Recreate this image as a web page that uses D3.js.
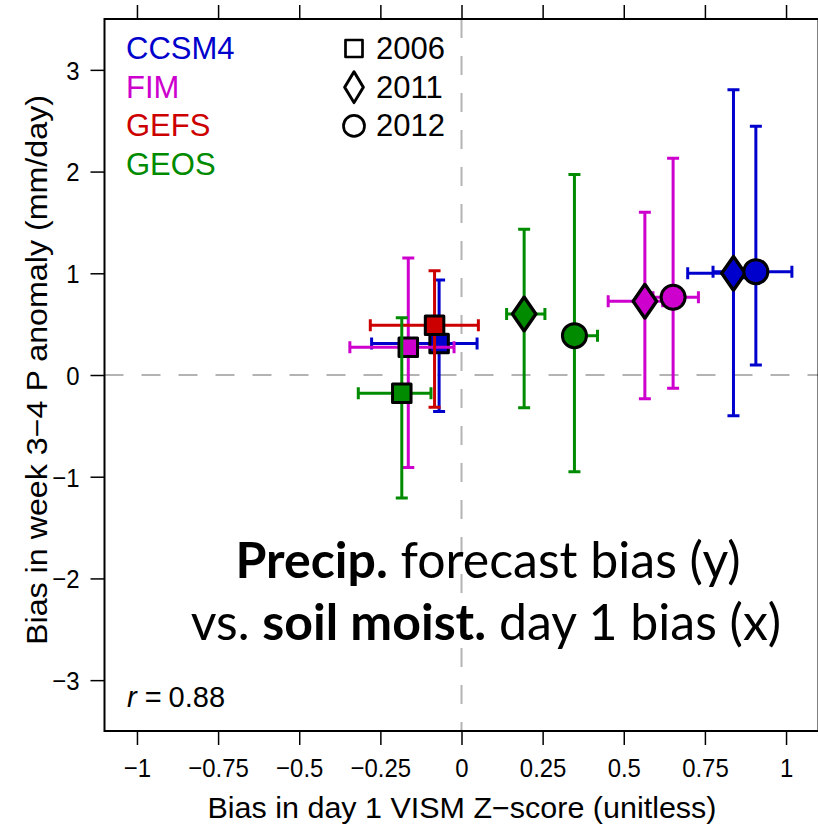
<!DOCTYPE html>
<html lang="en">
<head>
<meta charset="UTF-8">
<title>Precip bias vs soil moisture bias</title>
<script src="https://d3js.org/d3.v7.min.js"></script>
<style>
  body { margin: 0; background: #fff; }
  svg { display: block; }
  text { font-family: "Liberation Sans", Arial, sans-serif; }
</style>
</head>
<body>
<svg width="818" height="827"></svg>
<script>
// models, years and their colours / symbols
var models = ["CCSM4", "FIM", "GEFS", "GEOS"];
var modelColors = ["#0000CD", "#CD00CD", "#CD0000", "#008B00"];
var years = [2006, 2011, 2012];
var yearShapes = ["square", "diamond", "circle"];

// one entry per point
var pointModel = ["CCSM4", "CCSM4", "CCSM4", "FIM", "FIM", "FIM", "GEFS", "GEOS", "GEOS", "GEOS"];
var pointYear  = [2006, 2011, 2012, 2006, 2011, 2012, 2006, 2006, 2011, 2012];
var xBias = [-0.069, 0.838, 0.907, -0.164, 0.565, 0.652, -0.083, -0.184, 0.193, 0.348];
var xLow  = [-0.277, 0.697, 0.775, -0.344, 0.452, 0.590, -0.281, -0.318, 0.139, 0.320];
var xHigh = [ 0.048, 0.870, 1.018, -0.023, 0.620, 0.730,  0.052, -0.094, 0.257, 0.419];
var yBias = [ 0.31, 1.00, 1.016, 0.272, 0.725, 0.764, 0.489, -0.18, 0.60, 0.387];
var yLow  = [-0.36, -0.40, 0.098, -0.91, -0.233, -0.131, -0.318, -1.21, -0.321, -0.95];
var yHigh = [ 0.934, 2.805, 2.445, 1.15, 1.60, 2.13, 1.026, 0.563, 1.432, 1.97];

var xTicks = [-1, -0.75, -0.5, -0.25, 0, 0.25, 0.5, 0.75, 1];
var yTicks = [-3, -2, -1, 0, 1, 2, 3];
var rText = "0.88";

var svg = d3.select("svg");
var plotL = 104.5, plotR = 818.5, plotT = 19, plotB = 731;

var x = d3.scaleLinear().domain([-1.1, 1.1]).range([plotL, plotR]);
var y = d3.scaleLinear().domain([-3.5, 3.5]).range([plotB, plotT]);
var color = d3.scaleOrdinal().domain(models).range(modelColors);
var shape = d3.scaleOrdinal().domain(years).range(yearShapes);

function fmt(d) { return d < 0 ? "\u2212" + String(-d) : String(d); }
// squeeze a text horizontally, like the narrow R device text
function squeeze(t, f) {
  t.each(function() {
    var w = this.getComputedTextLength();
    d3.select(this).attr("textLength", w * f).attr("lengthAdjust", "spacingAndGlyphs");
  });
}

// zero reference lines
svg.append("line").attr("x1", x(0)).attr("x2", x(0)).attr("y1", plotT).attr("y2", plotB)
  .attr("stroke", "#b3b3b3").attr("stroke-width", 2).attr("stroke-dasharray", "19,18");
svg.append("line").attr("x1", plotL).attr("x2", plotR).attr("y1", y(0)).attr("y2", y(0))
  .attr("stroke", "#b3b3b3").attr("stroke-width", 2).attr("stroke-dasharray", "19,18");

// axes
var gx = svg.append("g").attr("transform", "translate(0," + plotB + ")")
  .call(d3.axisBottom(x).tickValues(xTicks).tickFormat(fmt).tickSize(14).tickSizeOuter(0).tickPadding(14));
var gxt = svg.append("g").attr("transform", "translate(0," + plotT + ")")
  .call(d3.axisTop(x).tickValues(xTicks).tickFormat("").tickSize(14).tickSizeOuter(0));
var gy = svg.append("g").attr("transform", "translate(" + plotL + ",0)")
  .call(d3.axisLeft(y).tickValues(yTicks).tickFormat(fmt).tickSize(14).tickSizeOuter(0).tickPadding(11));
[gx, gxt, gy].forEach(function(g) {
  g.select(".domain").remove();
  g.selectAll(".tick line").attr("stroke", "#000").attr("stroke-width", 1.5);
  g.selectAll(".tick text").attr("font-family", "Liberation Sans").attr("font-size", 26).attr("fill", "#000");
});
squeeze(gx.selectAll(".tick text"), 0.92);
squeeze(gy.selectAll(".tick text"), 0.92);
gy.selectAll(".tick text").attr("dy", "0.36em");

svg.append("rect").attr("x", plotL).attr("y", plotT).attr("width", plotR - plotL).attr("height", plotB - plotT)
  .attr("fill", "none").attr("stroke", "#000").attr("stroke-width", 2);

// axis titles
svg.append("text").attr("x", 462).attr("y", 818).attr("text-anchor", "middle")
  .attr("font-size", 29).attr("textLength", 509).attr("lengthAdjust", "spacingAndGlyphs")
  .text("Bias in day 1 VISM Z\u2212score (unitless)");
svg.append("text").attr("transform", "translate(47,370) rotate(-90)").attr("text-anchor", "middle")
  .attr("font-size", 29).attr("textLength", 550).attr("lengthAdjust", "spacingAndGlyphs")
  .text("Bias in week 3\u22124 P anomaly (mm/day)");

// points with error bars, model by model
var idx = d3.range(xBias.length);
var cap = 6;
var symbolSize = { square: 18.5 * 18.5, diamond: 330, circle: Math.PI * 12 * 12 };
function symbolPath(s, area) {
  var t = s === "square" ? d3.symbolSquare : s === "circle" ? d3.symbolCircle : d3.symbolDiamond;
  return d3.symbol().type(t).size(area)();
}

models.forEach(function(m) {
  var sel = idx.filter(function(i) { return pointModel[i] === m; });
  var g = svg.append("g").attr("stroke", color(m)).attr("stroke-width", 3).attr("fill", "none");
  sel.forEach(function(i) {
    var cx = x(xBias[i]), cy = y(yBias[i]);
    var x0 = x(xLow[i]), x1 = x(xHigh[i]), y0 = y(yLow[i]), y1 = y(yHigh[i]);
    g.append("path").attr("d",
      "M" + x0 + "," + cy + "H" + x1 +
      "M" + x0 + "," + (cy - cap) + "V" + (cy + cap) +
      "M" + x1 + "," + (cy - cap) + "V" + (cy + cap) +
      "M" + cx + "," + y0 + "V" + y1 +
      "M" + (cx - cap) + "," + y0 + "H" + (cx + cap) +
      "M" + (cx - cap) + "," + y1 + "H" + (cx + cap));
  });
  sel.forEach(function(i) {
    var s = shape(pointYear[i]);
    svg.append("path").attr("d", symbolPath(s, symbolSize[s]))
      .attr("transform", "translate(" + x(xBias[i]) + "," + y(yBias[i]) + ")" + (s === "diamond" ? " scale(1.2,1)" : ""))
      .attr("fill", color(m)).attr("stroke", "#000").attr("stroke-width", 3).attr("stroke-linejoin", "round");
  });
});

// legend: models
models.forEach(function(m, i) {
  svg.append("text").attr("x", 126).attr("y", 59 + i * 38.7).attr("font-size", 31)
    .attr("fill", color(m)).text(m);
});
// legend: years
years.forEach(function(yr, i) {
  var s = shape(yr);
  var area = s === "square" ? 17 * 17 : s === "circle" ? Math.PI * 10.5 * 10.5 : 250;
  svg.append("path").attr("d", symbolPath(s, area))
    .attr("transform", "translate(354," + (48.5 + i * 38.7) + ")" + (s === "diamond" ? " scale(1.1,1.05)" : ""))
    .attr("fill", "none").attr("stroke", "#000").attr("stroke-width", 2.7).attr("stroke-linejoin", "round");
  svg.append("text").attr("x", 376).attr("y", 59 + i * 38.7).attr("font-size", 31).text(yr);
});

// correlation
var rt = svg.append("text").attr("x", 127).attr("y", 707).attr("font-size", 29);
rt.append("tspan").attr("font-style", "italic").text("r");
rt.append("tspan").attr("dx", 8).text("=");
rt.append("tspan").attr("dx", 7).text(rText);

// annotation
var ann = svg.append("g").style("font-family", "Lato, 'Open Sans', sans-serif").attr("font-size", 50);
var l1 = ann.append("text").attr("x", 488).attr("y", 578).attr("text-anchor", "middle")
  .style("font-family", "Lato, sans-serif");
l1.append("tspan").attr("font-weight", "bold").text("Precip.");
l1.append("tspan").text(" forecast bias (y)");
var l2 = ann.append("text").attr("x", 486).attr("y", 640).attr("text-anchor", "middle")
  .style("font-family", "Lato, sans-serif");
l2.append("tspan").text("vs. ");
l2.append("tspan").attr("font-weight", "bold").text("soil moist.");
l2.append("tspan").text(" day 1 bias (x)");
</script>
</body>
</html>
